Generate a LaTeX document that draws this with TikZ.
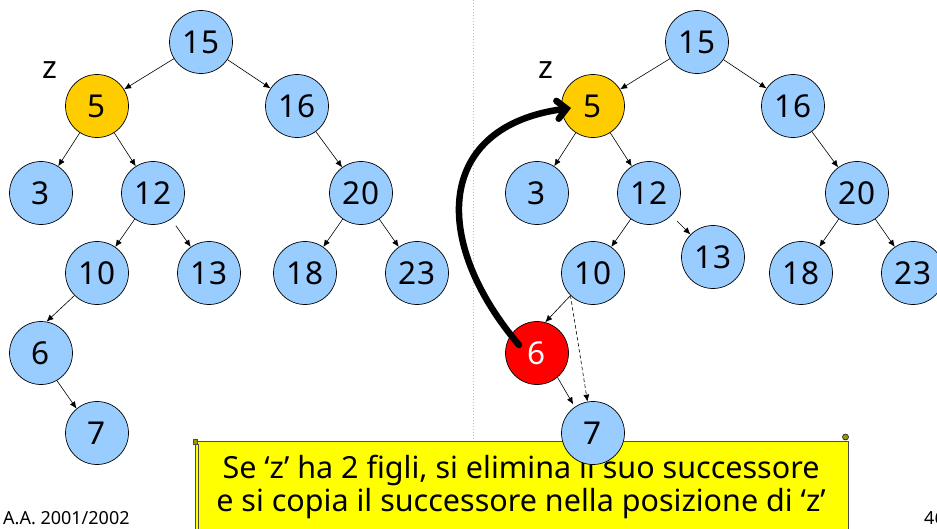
\documentclass[tikz,border=0pt]{standalone}
\usepackage{fontspec}
\setmainfont{Noto Sans}
\usetikzlibrary{arrows.meta}
\definecolor{nblue}{HTML}{99CCFF}
\definecolor{ngold}{HTML}{FFCC00}
\definecolor{nred}{HTML}{FF0000}
\definecolor{byellow}{HTML}{FFFF00}
\definecolor{sepline}{HTML}{F0A8A8}
\begin{document}
\begin{tikzpicture}[x=1pt,y=-1pt,
  nd/.style={circle,draw=black,line width=0.7pt,fill=nblue,minimum size=63pt,inner sep=0pt,font=\fontsize{31.5}{33}\selectfont},
  zn/.style={nd,fill=ngold},
  rn/.style={nd,fill=nred,text=white},
  ed/.style={-{Latex[length=7pt,width=6pt]},line width=0.6pt},
  lbl/.style={font=\fontsize{31.5}{33}\selectfont,inner sep=0pt},
  bigarrow/.style={-{Straight Barb[length=9pt,width=18pt,line cap=round]},line width=6.5pt,line cap=round}]
\useasboundingbox (0,0) rectangle (937,528);
% separator
\draw[sepline,dotted,line width=1pt] (473,0) -- (473,440);
% yellow note box
\draw[fill=byellow,draw=black!70,line width=0.8pt] (195,441) -- (848,441) -- (848,535) -- (195,535) -- cycle;
\draw[draw=black!70,line width=0.6pt] (198,444) -- (198,535);
\draw[draw=black!70,fill=byellow!60!black,line width=0.5pt] (193.5,439.5) rectangle (197.5,444.5);
\draw[draw=black,fill=byellow!60!black,line width=0.5pt] (845.5,437) circle (3pt);
\node[font=\fontsize{30.5}{32.5}\selectfont,align=center,inner sep=0pt] (note) at (521,487)
  {Se ‘z’ ha 2 figli, si elimina il suo successore\\e si copia il successore nella posizione di ‘z’};
% left tree
\node[nd] (l15) at (201,42) {15};
\node[zn] (l5) at (97,106) {5};
\node[nd] (l16) at (297,106) {16};
\node[nd] (l3) at (41,193) {3};
\node[nd] (l12) at (153,193) {12};
\node[nd] (l20) at (361,193) {20};
\node[nd] (l10) at (97,273) {10};
\node[nd] (l13) at (209,273) {13};
\node[nd] (l18) at (305,273) {18};
\node[nd] (l23) at (417,273) {23};
\node[nd] (l6) at (41,353) {6};
\node[nd] (l7) at (97,433) {7};
\node[lbl] (lz) at (50,70) {z};
\draw[ed] (l15) -- (l5);
\draw[ed] (l15) -- (l16);
\draw[ed] (l5) -- (l3);
\draw[ed] (l5) -- (l12);
\draw[ed] (l16) -- (l20);
\draw[ed] (l12) -- (l10);
\draw[ed,shorten <=8pt] (l12) -- (l13);
\draw[ed] (l20) -- (l18);
\draw[ed] (l20) -- (l23);
\draw[ed] (l10.225) -- (l6.80);
\draw[ed] (l6.-60) -- (l7.130);
% right tree
\node[nd] (r15) at (697,42) {15};
\node[zn] (r5) at (593,106) {5};
\node[nd] (r16) at (793,106) {16};
\node[nd] (r3) at (537,193) {3};
\node[nd] (r12) at (649,193) {12};
\node[nd] (r20) at (857,193) {20};
\node[nd] (r10) at (593,273) {10};
\node[nd] (r13) at (713,257) {13};
\node[nd] (r18) at (801,273) {18};
\node[nd] (r23) at (913,273) {23};
\node[rn] (r6) at (537,353) {6};
\node[nd] (r7) at (593,433) {7};
\node[lbl] (rz) at (546,70) {z};
\draw[ed] (r15) -- (r5);
\draw[ed] (r15) -- (r16);
\draw[ed] (r5) -- (r3);
\draw[ed] (r5) -- (r12);
\draw[ed] (r16) -- (r20);
\draw[ed] (r12) -- (r10);
\draw[ed,shorten <=8pt] (r12) -- (r13);
\draw[ed] (r20) -- (r18);
\draw[ed] (r20) -- (r23);
\draw[ed] (r10.225) -- (r6.75);
\draw[ed,shorten >=3pt] (r6.-50) -- (r7.125);
\draw[ed,dash pattern=on 3.5pt off 2.5pt] (r10.225) -- (r7.100);
% thick copy arrow
\coordinate (cs) at (519,345);
\coordinate (ce) at (571,108);
\draw[bigarrow] (cs) .. controls (430,240) and (436,126) .. (ce);
% footer
\node[font=\fontsize{18}{20}\selectfont,anchor=west,inner sep=0pt] (foot) at (3,518) {A.A. 2001/2002};
\node[font=\fontsize{18}{20}\selectfont,anchor=west,inner sep=0pt] (page) at (924,518) {46};
\end{tikzpicture}
\end{document}
